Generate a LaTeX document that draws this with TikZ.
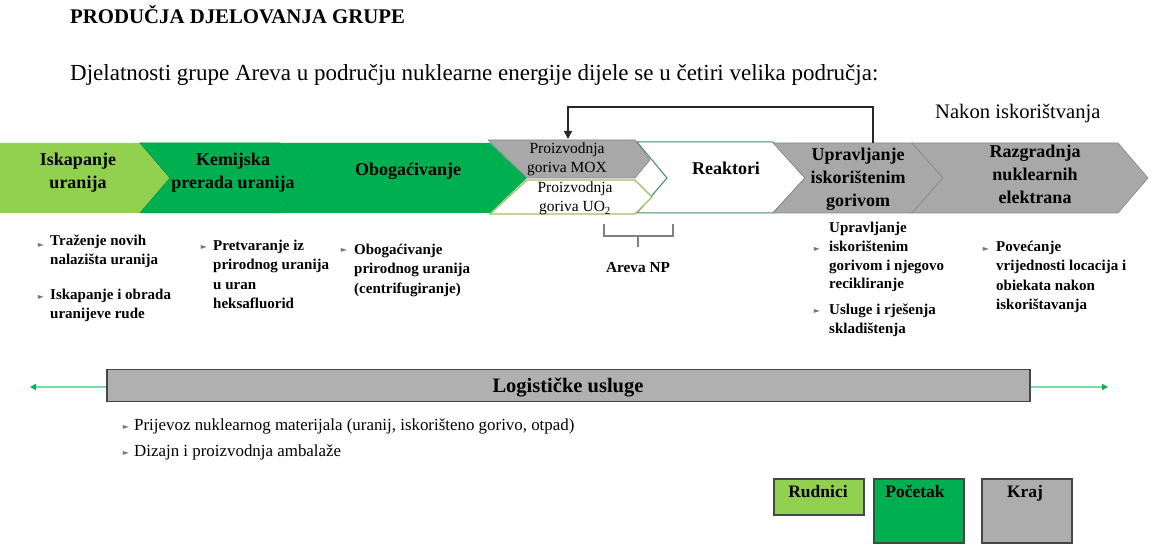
\documentclass[tikz,border=0pt]{standalone}
\usepackage{fontspec}
\setmainfont{Liberation Serif}
\newfontfamily\dejavu{DejaVu Sans}
\usetikzlibrary{arrows.meta}
\definecolor{lgreen}{RGB}{146,208,80}
\definecolor{dgreen}{RGB}{0,176,80}
\definecolor{bandgray}{RGB}{168,168,168}
\definecolor{edgegray}{RGB}{135,135,135}
\definecolor{olivec}{RGB}{160,190,100}
\definecolor{reakgreen}{RGB}{60,140,95}
\definecolor{arrgreen}{RGB}{120,220,160}
\definecolor{bulgray}{RGB}{120,120,120}
\definecolor{boxedge}{RGB}{70,70,70}
\newcommand\bulsym{{\dejavu\color{bulgray}\fontsize{8}{8}\selectfont ►}}
\newcommand\stl[1]{\begin{tabular}[t]{@{}l@{}}#1\end{tabular}}
\newcommand\stc[1]{\begin{tabular}[t]{@{}c@{}}#1\end{tabular}}
\tikzset{
  lab/.style={inner sep=0pt, anchor=base, font=\bfseries\fontsize{18}{22.8}\selectfont},
  fuel/.style={inner sep=0pt, anchor=base, font=\fontsize{15.5}{19}\selectfont},
  item/.style={inner sep=0pt, anchor=base west, font=\bfseries\fontsize{15}{19.5}\selectfont},
  litem/.style={inner sep=0pt, anchor=base west, font=\fontsize{16.9}{19.5}\selectfont},
  bul/.style={inner sep=0pt, anchor=center},
  chevedge/.style={draw=edgegray, line width=0.6pt},
  legbox/.style={draw=boxedge, line width=1.6pt, inner sep=0pt, anchor=north west},
  legtext/.style={inner sep=0pt, anchor=base, font=\bfseries\fontsize{17.5}{20}\selectfont},
  fb/.style={draw=black!85, line width=1.3pt, -{Triangle[length=8pt,width=8pt]}},
  garrow/.style={draw=arrgreen, line width=1.6pt, -{Triangle[length=6pt,width=6pt,color=dgreen]}},
}
\begin{document}
\begin{tikzpicture}[x=1pt,y=-1pt]
\useasboundingbox (0,0) rectangle (1152,545);
\fill[white] (0,0) rectangle (1152,545);

% titles
\node[inner sep=0pt, anchor=base west, font=\bfseries\fontsize{20.8}{24}\selectfont] (title) at (70,24) {PRODUČJA DJELOVANJA GRUPE};
\node[inner sep=0pt, anchor=base west, font=\fontsize{23}{26}\selectfont] (subtitle) at (70,81) {Djelatnosti grupe Areva u području nuklearne energije dijele se u četiri velika područja:};
\node[inner sep=0pt, anchor=base west, font=\fontsize{20.6}{24}\selectfont] (nakon) at (935,119) {Nakon iskorištvanja};

% band
\path[fill=lgreen] (0,143) -- (140,143) -- (170,178) -- (140,213) -- (0,213) -- cycle;
\path[fill=dgreen, draw=dgreen!80!black, line width=0.5pt] (140,143) -- (280,143) -- (312,178) -- (280,213) -- (140,213) -- (170,178) -- cycle;
\path[fill=dgreen] (280,143) -- (490,143) -- (527,178) -- (490,213) -- (280,213) -- (312,178) -- cycle;
\path[fill=white, draw=reakgreen, line width=1pt] (637,142) -- (773,142) -- (805,178) -- (773,213) -- (637,213) -- (667,178) -- cycle;
\path[fill=bandgray, draw=edgegray, line width=0.6pt] (488,140) -- (635,140) -- (650,160) -- (635,178) -- (527,178) -- cycle;
\path[fill=white, draw=olivec, line width=1.3pt] (527,180) -- (635,180) -- (652,197) -- (635,214) -- (490,214) -- cycle;
\path[fill=bandgray, chevedge] (773,143) -- (912,143) -- (943,178) -- (912,213) -- (773,213) -- (805,178) -- cycle;
\path[fill=bandgray, chevedge] (912,143) -- (1118,143) -- (1148,178) -- (1118,213) -- (912,213) -- (943,178) -- cycle;

% band labels
\node[lab] (isk) at (78,165.5) {\stc{Iskapanje\\uranija}};
\node[lab] (kem) at (233,165.5) {\stc{Kemijska\\prerada uranija}};
\node[lab] (obo) at (408,175.5) {Obogaćivanje};
\node[fuel] (mox) at (567,154) {\stc{Proizvodnja\\goriva MOX}};
\node[fuel] (uo) at (575,193) {\stc{Proizvodnja\\goriva UO\textsubscript{2}}};
\node[lab] (rea) at (726,174.5) {Reaktori};
\node[lab] (upr) at (858,161) {\stc{Upravljanje\\iskorištenim\\gorivom}};
\node[lab] (raz) at (1035,157.5) {\stc{Razgradnja\\nuklearnih\\elektrana}};

% feedback arrow
\coordinate (fbfrom) at (873,143);
\coordinate (fbto) at (568,139);
\draw[fb] (fbfrom) -- (873,107) -| (fbto);

% Areva NP bracket
\coordinate (brL) at (604,224);
\coordinate (brR) at (673,224);
\coordinate (brS) at (638,247);
\draw[draw=gray, line width=1.2pt] (brL) |- (brR |- 0,236) -- (brR);
\draw[draw=gray, line width=1.2pt] (brS |- 0,236) -- (brS);
\node[inner sep=0pt, anchor=base, font=\bfseries\fontsize{15.3}{18}\selectfont] (areva) at (638,273) {Areva NP};

% bullet columns
\node[bul] (b1) at (41,245) {\bulsym};
\node[item] (t1) at (50,245.5) {\stl{Traženje novih\\nalazišta uranija}};
\node[bul] (b2) at (41,297) {\bulsym};
\node[item] (t2) at (50,299.5) {\stl{Iskapanje i obrada\\uranijeve rude}};
\node[bul] (b3) at (204,247) {\bulsym};
\node[item] (t3) at (213,250.5) {\stl{Pretvaranje iz\\prirodnog uranija\\u uran\\heksafluorid}};
\node[bul] (b4) at (344,250) {\bulsym};
\node[item] (t4) at (354,254.5) {\stl{Obogaćivanje\\prirodnog uranija\\(centrifugiranje)}};
\node[bul] (b5) at (817,249) {\bulsym};
\node[item, font=\bfseries\fontsize{15}{18.8}\selectfont] (t5) at (829,232.5) {\stl{Upravljanje\\iskorištenim\\gorivom i njegovo\\recikliranje}};
\node[bul] (b6) at (817,311) {\bulsym};
\node[item, font=\bfseries\fontsize{15}{19}\selectfont] (t6) at (829,314.5) {\stl{Usluge i rješenja\\skladištenja}};
\node[bul] (b7) at (986,249) {\bulsym};
\node[item] (t7) at (996,251.5) {\stl{Povećanje\\vrijednosti locacija i\\obiekata nakon\\iskorištavanja}};

% logistics
\node[draw=boxedge, line width=1.6pt, fill={rgb,255:red,176;green,176;blue,176}, minimum width=923pt, minimum height=32pt, inner sep=0pt] (logbar) at (568.5,385.5) {};
\node[inner sep=0pt, anchor=base, font=\bfseries\fontsize{20.5}{24}\selectfont] (loglab) at (568,392) {Logističke usluge};
\coordinate (lgL) at (30,387);
\coordinate (lgR) at (1108,387);
\draw[garrow] (logbar.west |- lgL) -- (lgL);
\draw[garrow] (logbar.east |- lgR) -- (lgR);
\node[bul] (b8) at (126,427) {\bulsym};
\node[litem] (t8) at (134,430) {Prijevoz nuklearnog materijala (uranij, iskorišteno gorivo, otpad)};
\node[bul] (b9) at (126,453) {\bulsym};
\node[litem] (t9) at (134,456) {Dizajn i proizvodnja ambalaže};

% legend
\node[legbox, fill=lgreen, minimum width=90pt, minimum height=36pt] (legR) at (773,478) {};
\node[legbox, fill=dgreen, minimum width=90pt, minimum height=64pt] (legP) at (873,478) {};
\node[legbox, fill={rgb,255:red,173;green,173;blue,173}, minimum width=90pt, minimum height=64pt] (legK) at (981,478) {};
\node[legtext] (legRt) at (818,497) {Rudnici};
\node[legtext] (legPt) at (915,497) {Početak};
\node[legtext] (legKt) at (1025,497) {Kraj};
\end{tikzpicture}
\end{document}
